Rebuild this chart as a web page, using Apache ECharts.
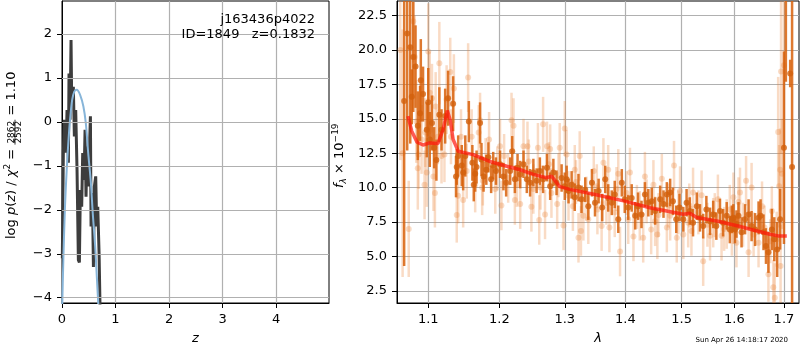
<!DOCTYPE html>
<html>
<head>
<meta charset="utf-8">
<script src="https://cdn.jsdelivr.net/npm/echarts@6/dist/echarts.min.js"></script>
<style>
  html, body { margin: 0; padding: 0; background: #fff; }
  #main { width: 800px; height: 350px; }
</style>
</head>
<body>
<div id="main"></div>
<script>
// ---- left panel: log p(z) ----
const fitZ = [0, 0.025, 0.056, 0.088, 0.118, 0.15, 0.19, 0.23, 0.275, 0.34, 0.40, 0.445, 0.49, 0.54, 0.575, 0.62, 0.66, 0.69];
const fitLogP = [-4.4, -3.14, -1.92, -1.09, -0.48, 0.05, 0.5, 0.69, 0.73, 0.61, 0.35, -0.03, -0.71, -1.39, -2.08, -2.83, -3.74, -4.4];

const pzZ = [0.006, 0.025, 0.044, 0.075, 0.094, 0.119, 0.131, 0.15, 0.169, 0.181,
  0.212, 0.231, 0.256, 0.281, 0.306, 0.325, 0.343, 0.368, 0.387, 0.412,
  0.431, 0.449, 0.468, 0.493, 0.531, 0.543, 0.568, 0.587, 0.605, 0.63,
  0.649, 0.668, 0.693, 0.712];
const pzLogP = [-3.1, -0.71, 0.05, -0.7, 0.27, -0.93, 1.1, 0.05, 1.86, 0.5,
  0.8, -0.33, 0.27, -1.09, -3.14, -3.2, -1.55, -1.93, -0.71, -1.32,
  -0.18, -1.7, -0.56, -1.47, 0.13, -2.38, -1.62, -3.3, -1.47, -1.24,
  -2.38, -1.93, -2.99, -4.3];

const zTicks = [0, 1, 2, 3, 4];
const logpTicks = [-4, -3, -2, -1, 0, 1, 2];

// ---- right panel: spectrum ----
const lightLam = [
  1.063, 1.066, 1.074, 1.080, 1.082, 1.084, 1.086, 1.087, 1.091, 1.095,
  1.096, 1.098, 1.100, 1.102, 1.105, 1.107, 1.109, 1.110, 1.113, 1.115,
  1.118, 1.122, 1.125, 1.130, 1.131, 1.135, 1.139, 1.141, 1.145, 1.148,
  1.153, 1.155, 1.160, 1.165, 1.170, 1.172, 1.175, 1.176, 1.180, 1.185,
  1.194, 1.197, 1.201, 1.203, 1.207, 1.213, 1.218, 1.221, 1.223, 1.226,
  1.231, 1.236, 1.242, 1.244, 1.248, 1.251, 1.258, 1.260, 1.262, 1.266,
  1.269, 1.272, 1.275, 1.277, 1.279, 1.288, 1.290, 1.292, 1.298, 1.300,
  1.303, 1.306, 1.313, 1.316, 1.318, 1.322, 1.324, 1.326, 1.330, 1.335,
  1.338, 1.347, 1.352, 1.353, 1.360, 1.363, 1.368, 1.371, 1.373, 1.382,
  1.385, 1.388, 1.391, 1.402, 1.405, 1.408, 1.414, 1.420, 1.425, 1.431,
  1.434, 1.437, 1.445, 1.449, 1.452, 1.456, 1.458, 1.464, 1.473, 1.476,
  1.479, 1.486, 1.491, 1.494, 1.497, 1.503, 1.512, 1.514, 1.518, 1.521,
  1.531, 1.537, 1.540, 1.548, 1.553, 1.559, 1.562, 1.568, 1.575, 1.580,
  1.585, 1.591, 1.595, 1.597, 1.598, 1.604, 1.608, 1.611, 1.617, 1.623,
  1.628, 1.634, 1.638, 1.648, 1.655, 1.660, 1.668, 1.672, 1.675, 1.678,
  1.681, 1.685, 1.688, 1.690, 1.692, 1.693, 1.694, 1.696, 1.700];
const lightFlux = [
  20.0, 12.5, 7.0, 22.1, 19.5, 14.8, 11.4, 12.4, 13.5, 10.2,
  14.0, 11.1, 19.9, 16.9, 16.5, 10.8, 9.6, 15.9, 13.7, 19.05,
  12.3, 12.4, 16.4, 18.4, 13.7, 17.2, 8.0, 9.4, 13.7, 9.1,
  11.2, 18.0, 13.7, 10.2, 14.0, 14.9, 10.0, 10.5, 12.0, 13.5,
  9.9, 11.4, 13.0, 8.7, 12.3, 10.7, 14.9, 14.5, 9.1, 10.2,
  8.8, 13.0, 13.0, 11.9, 8.6, 9.9, 12.9, 7.65, 10.0, 14.6,
  8.05, 13.0, 11.7, 12.8, 9.6, 8.8, 10.9, 12.9, 7.25, 14.3,
  12.4, 9.4, 8.65, 11.3, 10.4, 6.35, 12.3, 6.85, 7.95, 9.2,
  7.7, 11.2, 10.1, 8.4, 7.2, 11.8, 8.9, 11.3, 7.1, 8.2,
  9.9, 11.0, 5.35, 9.6, 7.7, 11.1, 6.45, 8.6, 7.95, 6.35,
  10.8, 9.0, 6.95, 10.2, 7.55, 6.6, 8.0, 10.65, 7.1, 8.7,
  7.95, 11.6, 6.35, 8.2, 9.75, 6.6, 7.45, 8.7, 6.85, 9.65,
  8.2, 9.45, 4.65, 7.3, 6.5, 7.45, 8.0, 9.15, 6.5, 7.0,
  7.35, 8.4, 6.85, 7.5, 9.3, 6.0, 8.95, 9.65, 7.3, 10.5,
  5.3, 10.0, 6.6, 6.0, 8.65, 7.1, 3.7, 6.1, 8.3, 2.75,
  2.0, 6.25, 14.05, 10.1, 11.3, 4.3, 18.45, 11.0, 18.9];
const lightErr = [
  8, 9, 3.5, 3, 3, 3, 3, 2.5, 2.5, 2.5,
  2.5, 2.5, 3.5, 3, 2.5, 2.5, 2.5, 2.5, 2, 3,
  2, 2, 2.5, 2.5, 2, 2.5, 2, 2, 2, 2,
  2, 2.5, 2, 2, 2, 2, 2, 1.8, 1.6, 2,
  1.8, 1.6, 2, 1.8, 1.6, 1.8, 2, 2, 1.8, 1.6,
  1.8, 2, 1.8, 1.6, 1.8, 1.8, 1.8, 1.8, 1.6, 2,
  1.8, 1.8, 1.6, 1.8, 1.8, 1.8, 1.6, 1.8, 1.8, 2,
  1.8, 1.8, 1.8, 1.8, 1.6, 1.8, 1.8, 1.8, 1.8, 1.6,
  1.8, 1.8, 1.6, 1.8, 1.8, 1.8, 1.6, 1.8, 1.8, 1.8,
  1.6, 1.8, 1.8, 1.6, 1.8, 1.8, 1.8, 1.6, 1.8, 1.8,
  1.8, 1.6, 1.8, 1.8, 1.8, 1.8, 1.6, 1.8, 1.8, 1.6,
  1.8, 1.8, 1.8, 1.6, 1.8, 1.8, 1.8, 1.6, 1.8, 1.8,
  1.6, 1.8, 1.8, 1.6, 1.8, 1.8, 1.6, 1.8, 1.8, 1.6,
  1.8, 1.8, 1.8, 1.6, 1.8, 1.8, 1.8, 1.8, 1.6, 1.8,
  1.8, 1.8, 1.6, 1.8, 1.8, 1.6, 2, 1.6, 1.8, 2,
  2.5, 2, 4, 3, 3, 3, 6, 4, 6];

const darkLam = [
  1.068, 1.072, 1.076, 1.078, 1.080, 1.083, 1.086, 1.089, 1.090, 1.093,
  1.098, 1.100, 1.102, 1.105, 1.108, 1.111, 1.115, 1.118, 1.123, 1.127,
  1.134, 1.138, 1.139, 1.141, 1.146, 1.148, 1.151, 1.156, 1.161, 1.163,
  1.165, 1.167, 1.172, 1.174, 1.177, 1.181, 1.184, 1.188, 1.191, 1.195,
  1.201, 1.206, 1.210, 1.216, 1.219, 1.223, 1.227, 1.231, 1.236, 1.241,
  1.246, 1.251, 1.256, 1.261, 1.266, 1.272, 1.277, 1.282, 1.287, 1.295,
  1.300, 1.303, 1.306, 1.311, 1.316, 1.322, 1.327, 1.333, 1.338, 1.344,
  1.349, 1.355, 1.361, 1.366, 1.371, 1.377, 1.382, 1.388, 1.394, 1.399,
  1.405, 1.411, 1.417, 1.422, 1.428, 1.434, 1.440, 1.446, 1.452, 1.461,
  1.467, 1.473, 1.479, 1.484, 1.490, 1.496, 1.503, 1.509, 1.515, 1.521,
  1.528, 1.534, 1.540, 1.546, 1.553, 1.559, 1.565, 1.572, 1.578, 1.585,
  1.591, 1.595, 1.598, 1.601, 1.604, 1.608, 1.614, 1.621, 1.628, 1.634,
  1.641, 1.648, 1.652, 1.658, 1.663, 1.668, 1.675, 1.680, 1.686, 1.692,
  1.700, 1.704, 1.713, 1.717];
const darkFlux = [
  16.3, 21.2, 20.2, 16.6, 19.5, 18.8, 14.5, 15.4, 17.8, 16.8,
  14.2, 16.2, 13.5, 14.7, 12.9, 12.0, 15.3, 14.2, 15.2, 16.5,
  16.1, 10.8, 11.5, 12.3, 11.6, 11.1, 12.3, 14.8, 11.8, 10.2,
  11.0, 11.5, 14.7, 12.05, 10.8, 11.3, 12.2, 10.6, 11.6, 11.2,
  11.7, 10.8, 10.35, 11.2, 12.65, 10.6, 11.45, 10.95, 11.7, 10.6,
  10.35, 11.1, 10.5, 11.2, 10.6, 11.45, 10.1, 11.1, 10.35, 10.7,
  10.1, 10.6, 9.75, 10.2, 9.3, 10.0, 9.15, 9.85, 8.65, 10.35,
  8.9, 9.75, 8.55, 10.6, 9.25, 8.9, 9.5, 7.7, 10.35, 9.15,
  8.55, 9.25, 7.95, 8.65, 8.05, 9.5, 8.9, 9.0, 8.3, 9.15,
  8.8, 9.5, 9.65, 9.0, 7.7, 8.55, 7.7, 8.9, 8.3, 7.45,
  8.65, 7.8, 7.2, 8.4, 7.55, 8.05, 7.2, 8.3, 7.45, 7.95,
  6.95, 7.7, 7.8, 6.95, 7.35, 7.95, 6.75, 7.7, 8.05, 7.2,
  6.95, 7.8, 7.95, 6.75, 5.75, 5.3, 6.95, 6.25, 5.5, 7.7,
  12.9, 28, 18.3, 11.5];
const darkErr = [
  12, 8.5, 7, 2, 4, 3, 2.5, 2, 3, 2,
  2, 2.5, 2, 2, 1.5, 1.5, 2, 1.5, 2, 2,
  2, 1.5, 1.3, 1.5, 1.5, 1.3, 1.5, 1.5, 1.3, 1.2,
  1.3, 1.2, 1.5, 1.2, 1.1, 1.1, 1.1, 1, 1, 1,
  1, 1, 1, 1, 1.1, 1, 1, 1, 1, 1,
  1, 1, 0.9, 1, 1, 1, 1, 1, 0.9, 1,
  1, 1, 0.9, 1, 1, 1, 1, 0.9, 1, 1,
  1, 0.9, 1, 1, 1, 0.9, 1, 1, 1, 1,
  0.9, 1, 1, 1, 1, 0.9, 1, 1, 1, 1,
  1, 0.9, 1, 1, 1, 1, 0.9, 1, 1, 1,
  1, 1, 0.9, 1, 1, 1, 1, 0.9, 1, 1,
  1, 1, 1, 1, 1, 1, 1.1, 1.1, 1.1, 1.1,
  1.2, 1.2, 1.2, 1.3, 1.3, 1.5, 1.5, 1.6, 2, 2.2,
  7, 10.3, 1, 13];

const modelLam = [1.073, 1.078, 1.085, 1.093, 1.102, 1.113, 1.120, 1.126, 1.130, 1.134,
  1.141, 1.162, 1.186, 1.211, 1.231, 1.251, 1.271, 1.279, 1.292, 1.308,
  1.349, 1.399, 1.443, 1.452, 1.503, 1.515, 1.528, 1.566, 1.611, 1.631,
  1.671, 1.688, 1.706];
const modelFlux = [15.2, 14.1, 13.3, 13.1, 13.25, 13.2, 14.2, 15.6, 14.9, 13.5,
  12.65, 12.4, 11.9, 11.55, 11.3, 10.96, 10.72, 10.83, 10.07, 9.87,
  9.5, 9.02, 8.54, 8.47, 8.06, 8.13, 7.82, 7.57, 7.17, 6.97,
  6.61, 6.49, 6.49];

const lamTicks = [1.1, 1.2, 1.3, 1.4, 1.5, 1.6, 1.7];
const fluxTicks = [2.5, 5.0, 7.5, 10.0, 12.5, 15.0, 17.5, 20.0, 22.5];

const FONT = 'DejaVu Sans';
const GRID_COLOR = '#b0b0b0';

// wavelength axis is logarithmic: work in ln(lambda)
const lnLam = v => Math.log(v);

function axisOpts(ticks, fmt, margin, gridLines) {
  return {
    axisLine: { show: true, onZero: false, lineStyle: { color: '#000', width: 1 } },
    axisTick: { show: true, length: 5, lineStyle: { color: '#000', width: 1 }, customValues: ticks.slice() },
    axisLabel: { customValues: ticks.slice(), formatter: fmt, color: '#000', fontFamily: FONT, fontSize: 13, margin: margin },
    splitLine: { show: gridLines, lineStyle: { color: GRID_COLOR, width: 1.2 } }
  };
}

function errorBars(color, width) {
  return function (params, api) {
    const x = api.value(0), y = api.value(1), e = api.value(2);
    const p1 = api.coord([x, y - e]);
    const p2 = api.coord([x, y + e]);
    return {
      type: 'line',
      shape: { x1: p1[0], y1: p1[1], x2: p2[0], y2: p2[1] },
      style: { stroke: color, lineWidth: width }
    };
  };
}

// rotated axis title assembled from pieces (sub/superscripts, fraction)
function mathLabel(x, y, pieces) {
  const ctx = document.createElement('canvas').getContext('2d');
  const children = [];
  let pos = 0;
  pieces.forEach(p => {
    const font = (p.it ? 'italic ' : '') + p.s + 'px "' + FONT + '"';
    ctx.font = font;
    if (p.frac) {
      const w = Math.max(ctx.measureText(p.frac[0]).width, ctx.measureText(p.frac[1]).width) + 2;
      children.push({ type: 'text', x: pos + w / 2, y: p.top, style: { text: p.frac[0], font: font, fill: '#000', align: 'center', verticalAlign: 'middle' } });
      children.push({ type: 'text', x: pos + w / 2, y: p.bot, style: { text: p.frac[1], font: font, fill: '#000', align: 'center', verticalAlign: 'middle' } });
      children.push({ type: 'line', shape: { x1: pos, y1: p.bar, x2: pos + w, y2: p.bar }, style: { stroke: '#000', lineWidth: 0.8 } });
      pos += w;
    } else {
      children.push({ type: 'text', x: pos, y: p.dy || 0, style: { text: p.t, font: font, fill: '#000', align: 'left', verticalAlign: 'middle' } });
      pos += ctx.measureText(p.t).width;
    }
  });
  return { type: 'group', x: x, y: y, z: 100, rotation: Math.PI / 2, children: children };
}

function label(x, y, text, size, align) {
  return {
    type: 'text', x: x, y: y, z: 100,
    style: { text: text, font: size + 'px "' + FONT + '"', fill: '#000', align: align, verticalAlign: 'middle' }
  };
}

const chart = echarts.init(document.getElementById('main'));

const option = {
  animation: false,
  backgroundColor: '#fff',
  textStyle: { fontFamily: FONT },
  grid: [
    { left: 62, top: 1, width: 267, height: 303, show: true, borderColor: '#000', borderWidth: 1, containLabel: false },
    { left: 397, top: 1, width: 402, height: 303, show: true, borderColor: '#000', borderWidth: 1, containLabel: false }
  ],
  xAxis: [
    Object.assign({
      type: 'value', gridIndex: 0, min: 0, max: 4.99,
      name: 'z', nameLocation: 'middle', nameGap: 29,
      nameTextStyle: { fontFamily: FONT, fontSize: 13, fontStyle: 'italic', color: '#000' }
    }, axisOpts(zTicks, v => String(v), 10, false)),
    Object.assign({
      type: 'value', gridIndex: 1, min: lnLam(1.0587), max: lnLam(1.7316),
      name: 'λ', nameLocation: 'middle', nameGap: 29,
      nameTextStyle: { fontFamily: FONT, fontSize: 13, fontStyle: 'italic', color: '#000' }
    }, axisOpts(lamTicks.map(lnLam), v => Math.exp(v).toFixed(1), 10, true))
  ],
  yAxis: [
    Object.assign({ type: 'value', gridIndex: 0, min: -4.12, max: 2.75 },
      axisOpts(logpTicks, v => String(v).replace('-', '\u2212'), 10, false)),
    Object.assign({ type: 'value', gridIndex: 1, min: 1.61, max: 23.57 },
      axisOpts(fluxTicks, v => v.toFixed(1), 10, true))
  ],
  graphic: [
    label(315, 20, 'j163436p4022', 13, 'right'),
    label(315, 34.5, 'ID=1849   z=0.1832', 13, 'right'),
    label(788, 340, 'Sun Apr 26 14:18:17 2020', 7, 'right'),
    mathLabel(12, 239, [
      { t: 'log ', s: 13 }, { t: 'p', s: 13, it: true }, { t: '(', s: 13 }, { t: 'z', s: 13, it: true },
      { t: ') / ', s: 13 }, { t: 'χ', s: 13, it: true }, { t: '2', s: 9, dy: -4 }, { t: ' = ', s: 13 },
      { frac: ['2862', '2592'], s: 9, top: -0.5, bot: 6.5, bar: 3 },
      { t: ' = 1.10', s: 13 }
    ]),
    mathLabel(340, 188, [
      { t: 'f', s: 13, it: true }, { t: 'λ', s: 9, it: true, dy: 3.5 },
      { t: ' × 10', s: 13 }, { t: '\u221219', s: 9, dy: -4.5 }
    ])
  ],
  series: [
    {
      // grid lines of the p(z) panel, placed at the tick values
      type: 'line', xAxisIndex: 0, yAxisIndex: 0, z: 1, data: [],
      markLine: {
        silent: true, symbol: 'none', animation: false,
        label: { show: false },
        lineStyle: { color: GRID_COLOR, width: 1.2, type: 'solid' },
        data: zTicks.slice(1).map(v => ({ xAxis: v })).concat(logpTicks.map(v => ({ yAxis: v })))
      }
    },
    {
      type: 'line', xAxisIndex: 0, yAxisIndex: 0, z: 3,
      data: pzZ.map((z, i) => [z, pzLogP[i]]),
      symbol: 'none', lineStyle: { color: '#3d3d3d', width: 3 }
    },
    {
      type: 'line', xAxisIndex: 0, yAxisIndex: 0, z: 4,
      data: fitZ.map((z, i) => [z, fitLogP[i]]),
      symbol: 'none', smooth: 0.3, lineStyle: { color: '#87b5d9', width: 2 }
    },
    {
      type: 'custom', xAxisIndex: 1, yAxisIndex: 1, z: 2, clip: true,
      data: lightLam.map((l, i) => [lnLam(l), lightFlux[i], lightErr[i]]),
      renderItem: errorBars('rgba(232,126,48,0.28)', 2.5)
    },
    {
      type: 'scatter', xAxisIndex: 1, yAxisIndex: 1, z: 3,
      data: lightLam.map((l, i) => [lnLam(l), lightFlux[i]]),
      symbolSize: 6, itemStyle: { color: 'rgba(232,126,48,0.35)' }
    },
    {
      type: 'custom', xAxisIndex: 1, yAxisIndex: 1, z: 4, clip: true,
      data: darkLam.map((l, i) => [lnLam(l), darkFlux[i], darkErr[i]]),
      renderItem: errorBars('rgba(216,98,12,0.85)', 2.5)
    },
    {
      type: 'scatter', xAxisIndex: 1, yAxisIndex: 1, z: 5,
      data: darkLam.map((l, i) => [lnLam(l), darkFlux[i]]),
      symbolSize: 6, itemStyle: { color: '#d2600c' }
    },
    {
      type: 'line', xAxisIndex: 1, yAxisIndex: 1, z: 6,
      data: modelLam.map((l, i) => [lnLam(l), modelFlux[i]]),
      symbol: 'none', lineStyle: { color: 'rgba(255,20,10,0.7)', width: 3.5 }
    }
  ]
};

chart.setOption(option);
</script>
</body>
</html>
